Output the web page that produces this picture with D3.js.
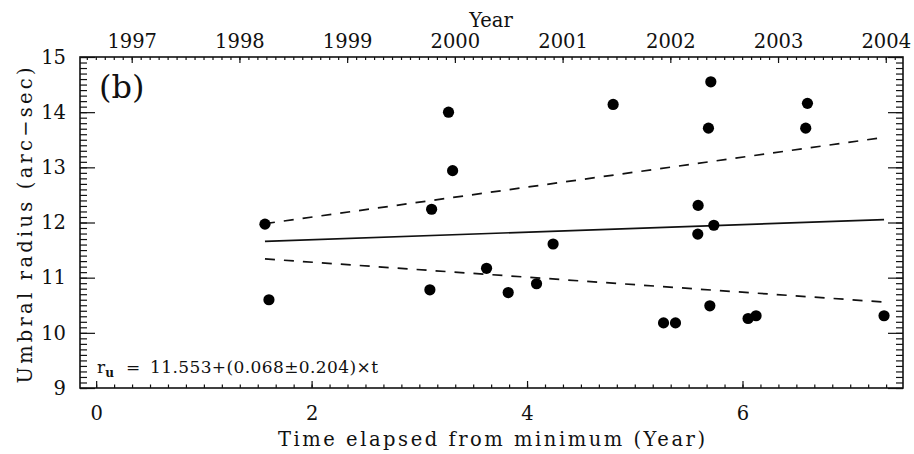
<!DOCTYPE html>
<html>
<head>
<meta charset="utf-8">
<script src="https://cdn.jsdelivr.net/npm/d3@7"></script>
<style>
  html, body { margin: 0; padding: 0; background: #fff; }
  svg { display: block; font-family: "DejaVu Serif", serif; }
</style>
</head>
<body>
<svg id="chart" width="914" height="454"></svg>
<script>
// Umbral radius measurements against time elapsed since solar minimum
const timeElapsed = [1.567, 1.604, 3.271, 3.309, 3.114, 3.098, 3.624, 3.825, 4.088, 4.242,
                     4.799, 5.267, 5.378, 5.588, 5.585, 5.684, 5.706, 5.697, 5.734, 6.052,
                     6.126, 6.587, 6.603, 7.314];
const umbralRadius = [11.97, 10.60, 14.00, 12.94, 12.24, 10.78, 11.17, 10.73, 10.89, 11.61,
                      14.14, 10.18, 10.18, 12.31, 11.79, 13.71, 14.55, 10.49, 11.95, 10.26,
                      10.31, 13.71, 14.16, 10.31];

// Linear fit r_u = a + (b ± db) × t
const fitIntercept = 11.553;
const fitSlope = 0.068;
const fitSlopeErr = 0.204;

// Axis ticks
const timeTicks = [0, 2, 4, 6];
const yearTicks = [1997, 1998, 1999, 2000, 2001, 2002, 2003, 2004];
const radiusTicks = [9, 10, 11, 12, 13, 14, 15];
const yearOfMinimum = 1996.67;

const plotLeft = 80, plotRight = 903, plotTop = 57, plotBottom = 388;
const tDomain = [-0.15, 7.49];

const svg = d3.select("#chart");
const x = d3.scaleLinear().domain(tDomain).range([plotLeft, plotRight]);
const xYear = d3.scaleLinear().domain(tDomain.map(d => d + yearOfMinimum)).range([plotLeft, plotRight]);
const y = d3.scaleLinear().domain([9, 15]).range([plotBottom, plotTop]);

const ink = "#111";
const labelSize = "19.5px";

function minorTicks(scale, step) {
  const [a, b] = scale.domain();
  const out = [];
  for (let k = Math.ceil(a / step - 1e-9); k * step <= b + 1e-9; k++) out.push(k * step);
  return out;
}

function styleAxis(g) {
  g.select(".domain").remove();
  g.selectAll(".tick line").attr("stroke", ink).attr("stroke-width", 1.2);
  g.selectAll(".tick text").attr("fill", ink).style("font-size", labelSize)
    .style("font-family", "DejaVu Serif, serif");
}

// Bottom axis: time elapsed
svg.append("g").attr("transform", `translate(0,${plotBottom})`)
  .call(d3.axisBottom(x).tickValues(minorTicks(x, 1 / 6)).tickSizeInner(-3.5).tickSizeOuter(0).tickFormat(""))
  .call(styleAxis);
svg.append("g").attr("transform", `translate(0,${plotBottom})`)
  .call(d3.axisBottom(x).tickValues(timeTicks).tickSizeInner(-7).tickSizeOuter(0).tickPadding(18).tickFormat(d3.format("d")))
  .call(styleAxis);

// Top axis: calendar year
svg.append("g").attr("transform", `translate(0,${plotTop})`)
  .call(d3.axisTop(xYear).tickValues(minorTicks(xYear, 1 / 12)).tickSizeInner(-3).tickSizeOuter(0).tickFormat(""))
  .call(styleAxis);
svg.append("g").attr("transform", `translate(0,${plotTop})`)
  .call(d3.axisTop(xYear).tickValues(yearTicks).tickSizeInner(-6).tickSizeOuter(0).tickPadding(9).tickFormat(d3.format("d")))
  .call(styleAxis);

// Left and right axes: umbral radius
svg.append("g").attr("transform", `translate(${plotLeft},0)`)
  .call(d3.axisLeft(y).tickValues(minorTicks(y, 0.1)).tickSizeInner(-7).tickSizeOuter(0).tickFormat(""))
  .call(styleAxis);
svg.append("g").attr("transform", `translate(${plotLeft},0)`)
  .call(d3.axisLeft(y).tickValues(radiusTicks).tickSizeInner(-15).tickSizeOuter(0).tickPadding(14).tickFormat(d3.format("d")))
  .call(styleAxis);
svg.append("g").attr("transform", `translate(${plotRight},0)`)
  .call(d3.axisRight(y).tickValues(minorTicks(y, 0.1)).tickSizeInner(-7).tickSizeOuter(0).tickFormat(""))
  .call(styleAxis);
svg.append("g").attr("transform", `translate(${plotRight},0)`)
  .call(d3.axisRight(y).tickValues(radiusTicks).tickSizeInner(-15).tickSizeOuter(0).tickFormat(""))
  .call(styleAxis);

// Plot frame
svg.append("rect")
  .attr("x", plotLeft).attr("y", plotTop)
  .attr("width", plotRight - plotLeft).attr("height", plotBottom - plotTop)
  .attr("fill", "none").attr("stroke", ink).attr("stroke-width", 1.6);

// Fit line and its slope-error envelope, spanning the observed times
const tRange = d3.extent(timeElapsed);
const fitLines = [
  { slope: fitSlope, dash: null },
  { slope: fitSlope + fitSlopeErr, dash: "10,9" },
  { slope: fitSlope - fitSlopeErr, dash: "10,9" }
];
const line = d3.line().x(d => x(d[0])).y(d => y(d[1]));
svg.append("g").selectAll("path").data(fitLines).join("path")
  .attr("d", f => line(tRange.map(t => [t, fitIntercept + f.slope * t])))
  .attr("fill", "none").attr("stroke", ink).attr("stroke-width", 1.7)
  .attr("stroke-dasharray", f => f.dash);

// Measurements
svg.append("g").selectAll("circle").data(timeElapsed).join("circle")
  .attr("cx", t => x(t)).attr("cy", (t, i) => y(umbralRadius[i]))
  .attr("r", 5.6).attr("fill", "#000");

// Panel label
svg.append("text").attr("x", 99).attr("y", 98)
  .style("font-size", "32px").attr("fill", ink).text("(b)");

// Fit equation
const eq = svg.append("text").attr("y", 373).style("font-size", "17px").attr("fill", ink);
eq.append("tspan").attr("x", 97).text("r");
eq.append("tspan").attr("dy", 4).style("font-size", "12px").style("font-weight", "bold").text("u");
eq.append("tspan").attr("x", 126).attr("dy", -4).text("=");
eq.append("tspan").attr("x", 150)
  .attr("textLength", 228).attr("lengthAdjust", "spacing")
  .text(`${fitIntercept.toFixed(3)}+(${fitSlope.toFixed(3)}±${fitSlopeErr.toFixed(3)})×t`);

// Axis titles
svg.append("text").attr("x", (plotLeft + plotRight) / 2).attr("y", 446)
  .attr("text-anchor", "middle").style("font-size", labelSize).attr("fill", ink)
  .attr("textLength", 427).attr("lengthAdjust", "spacing")
  .text("Time elapsed from minimum (Year)");
svg.append("text").attr("x", 491).attr("y", 27)
  .attr("text-anchor", "middle").style("font-size", labelSize).attr("fill", ink)
  .text("Year");
svg.append("text")
  .attr("transform", `translate(32,${(plotTop + plotBottom) / 2 + 3}) rotate(-90)`)
  .attr("text-anchor", "middle").style("font-size", labelSize).attr("fill", ink)
  .attr("textLength", 316).attr("lengthAdjust", "spacing")
  .text("Umbral radius (arc−sec)");
</script>
</body>
</html>
